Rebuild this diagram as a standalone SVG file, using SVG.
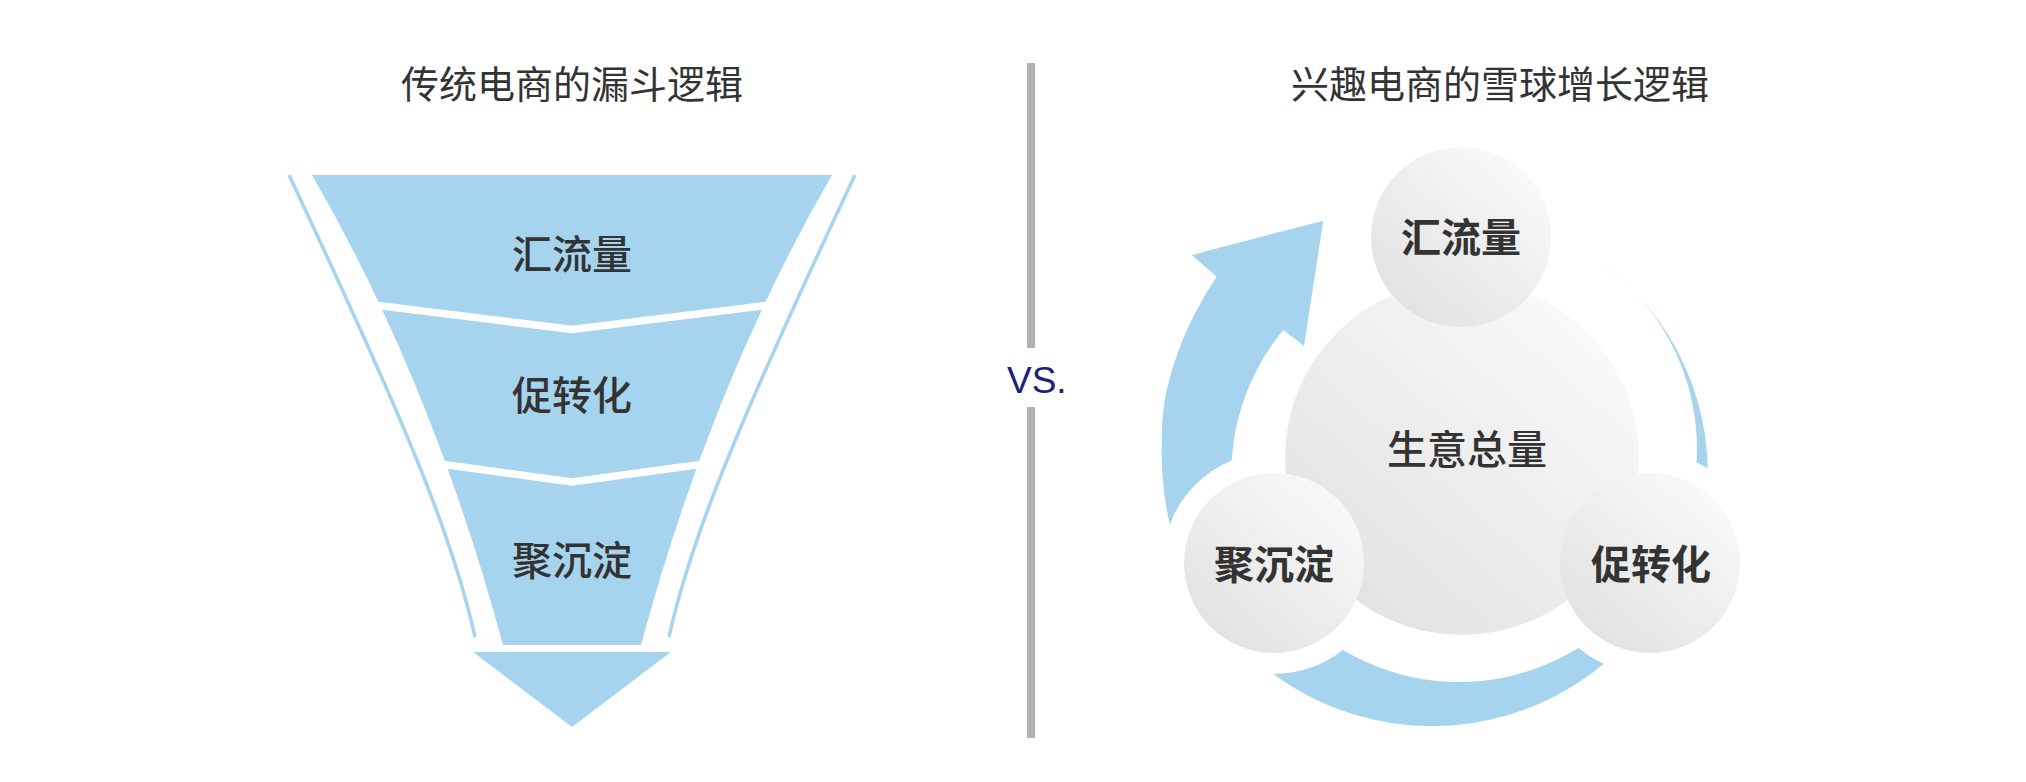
<svg xmlns="http://www.w3.org/2000/svg" width="2026" height="782" viewBox="0 0 2026 782">
<style>
.blue{fill:#a6d4ef}
.bline{fill:none;stroke:#a6d4ef;stroke-width:3.5}
.sep{fill:none;stroke:#ffffff;stroke-width:7.5;stroke-linejoin:miter}
.t{font-family:"Noto Sans CJK SC","Noto Sans",sans-serif;fill:#333333;text-anchor:middle}
.title{font-size:38px}
.lbl{font-size:40px}
.med{font-weight:500}
.bold{font-weight:700}
.ball{fill:url(#ball)}
.halo{fill:#ffffff}
.div{fill:#b3b3b3}
</style>
<defs>
<linearGradient id="ball" x1="0.85" y1="0.1" x2="0.15" y2="0.9">
<stop offset="0" stop-color="#f9f9f9"/>
<stop offset="1" stop-color="#e2e2e2"/>
</linearGradient>
</defs>
<rect width="2026" height="782" fill="#ffffff"/>

<g id="title-left"><text class="t title" x="572" y="98">传统电商的漏斗逻辑</text></g>
<g id="title-right"><text class="t title" x="1500" y="98">兴趣电商的雪球增长逻辑</text></g>

<g id="funnel">
<path class="bline" d="M289,175 C406.5,425 453,537 475,637"/>
<path class="bline" d="M855,175 C737.5,425 691,537 669,637"/>
<path class="blue" d="M312,175 L832,175 Q712,382 641,645 L503,645 Q432,382 312,175 Z"/>
<polyline class="sep" points="376,305.3 572,329.5 768,305.3"/>
<polyline class="sep" points="440,464 572,482 704,464"/>
<path class="blue" d="M473,652 L671,652 L572,727 Z"/>
</g>
<g id="funnel-stage-1"><text class="t lbl med" x="572" y="269">汇流量</text></g>
<g id="funnel-stage-2"><text class="t lbl med" x="572" y="410">促转化</text></g>
<g id="funnel-stage-3"><text class="t lbl med" x="572" y="575">聚沉淀</text></g>

<g id="divider">
<rect class="div" x="1027" y="63" width="8" height="285"/>
<rect class="div" x="1027" y="407" width="8" height="331"/>
<text x="1007" y="393" font-family="Liberation Sans, Arial, sans-serif" font-size="37" fill="#1b2177">VS.</text>
</g>

<g id="connectors">
<path class="blue" d="M1185,575 C1168,530 1160,485 1162,440 C1160,385 1186,322 1216.7,276.7 L1191.7,255 L1323.3,220.7 L1304,346 L1283.3,330 A226,226 0 0 0 1236,520 Z"/>
<path class="blue" d="M1226.7,630.3 A268,268 0 0 0 1637.3,630.3 L1632.1,601.3 A226,226 0 0 1 1285.9,601.3 Z"/>
<path class="blue" d="M1599,261 A262,262 0 0 1 1706,505 L1690,505 A229,229 0 0 0 1599,261 Z"/>
</g>

<g id="halos">
<circle class="halo" cx="1274" cy="563" r="111"/>
<circle class="halo" cx="1650" cy="563" r="111"/>
</g>

<g id="node-core">
<circle class="ball" cx="1462" cy="458" r="177"/>
<text class="t lbl med" x="1467" y="464">生意总量</text>
</g>
<g id="node-traffic">
<circle class="ball" cx="1461" cy="237" r="90"/>
<text class="t lbl bold" x="1461" y="252">汇流量</text>
</g>
<g id="node-retain">
<circle class="ball" cx="1274" cy="563" r="90"/>
<text class="t lbl bold" x="1274" y="579">聚沉淀</text>
</g>
<g id="node-convert">
<circle class="ball" cx="1650" cy="563" r="90"/>
<text class="t lbl bold" x="1651" y="579">促转化</text>
</g>
</svg>
